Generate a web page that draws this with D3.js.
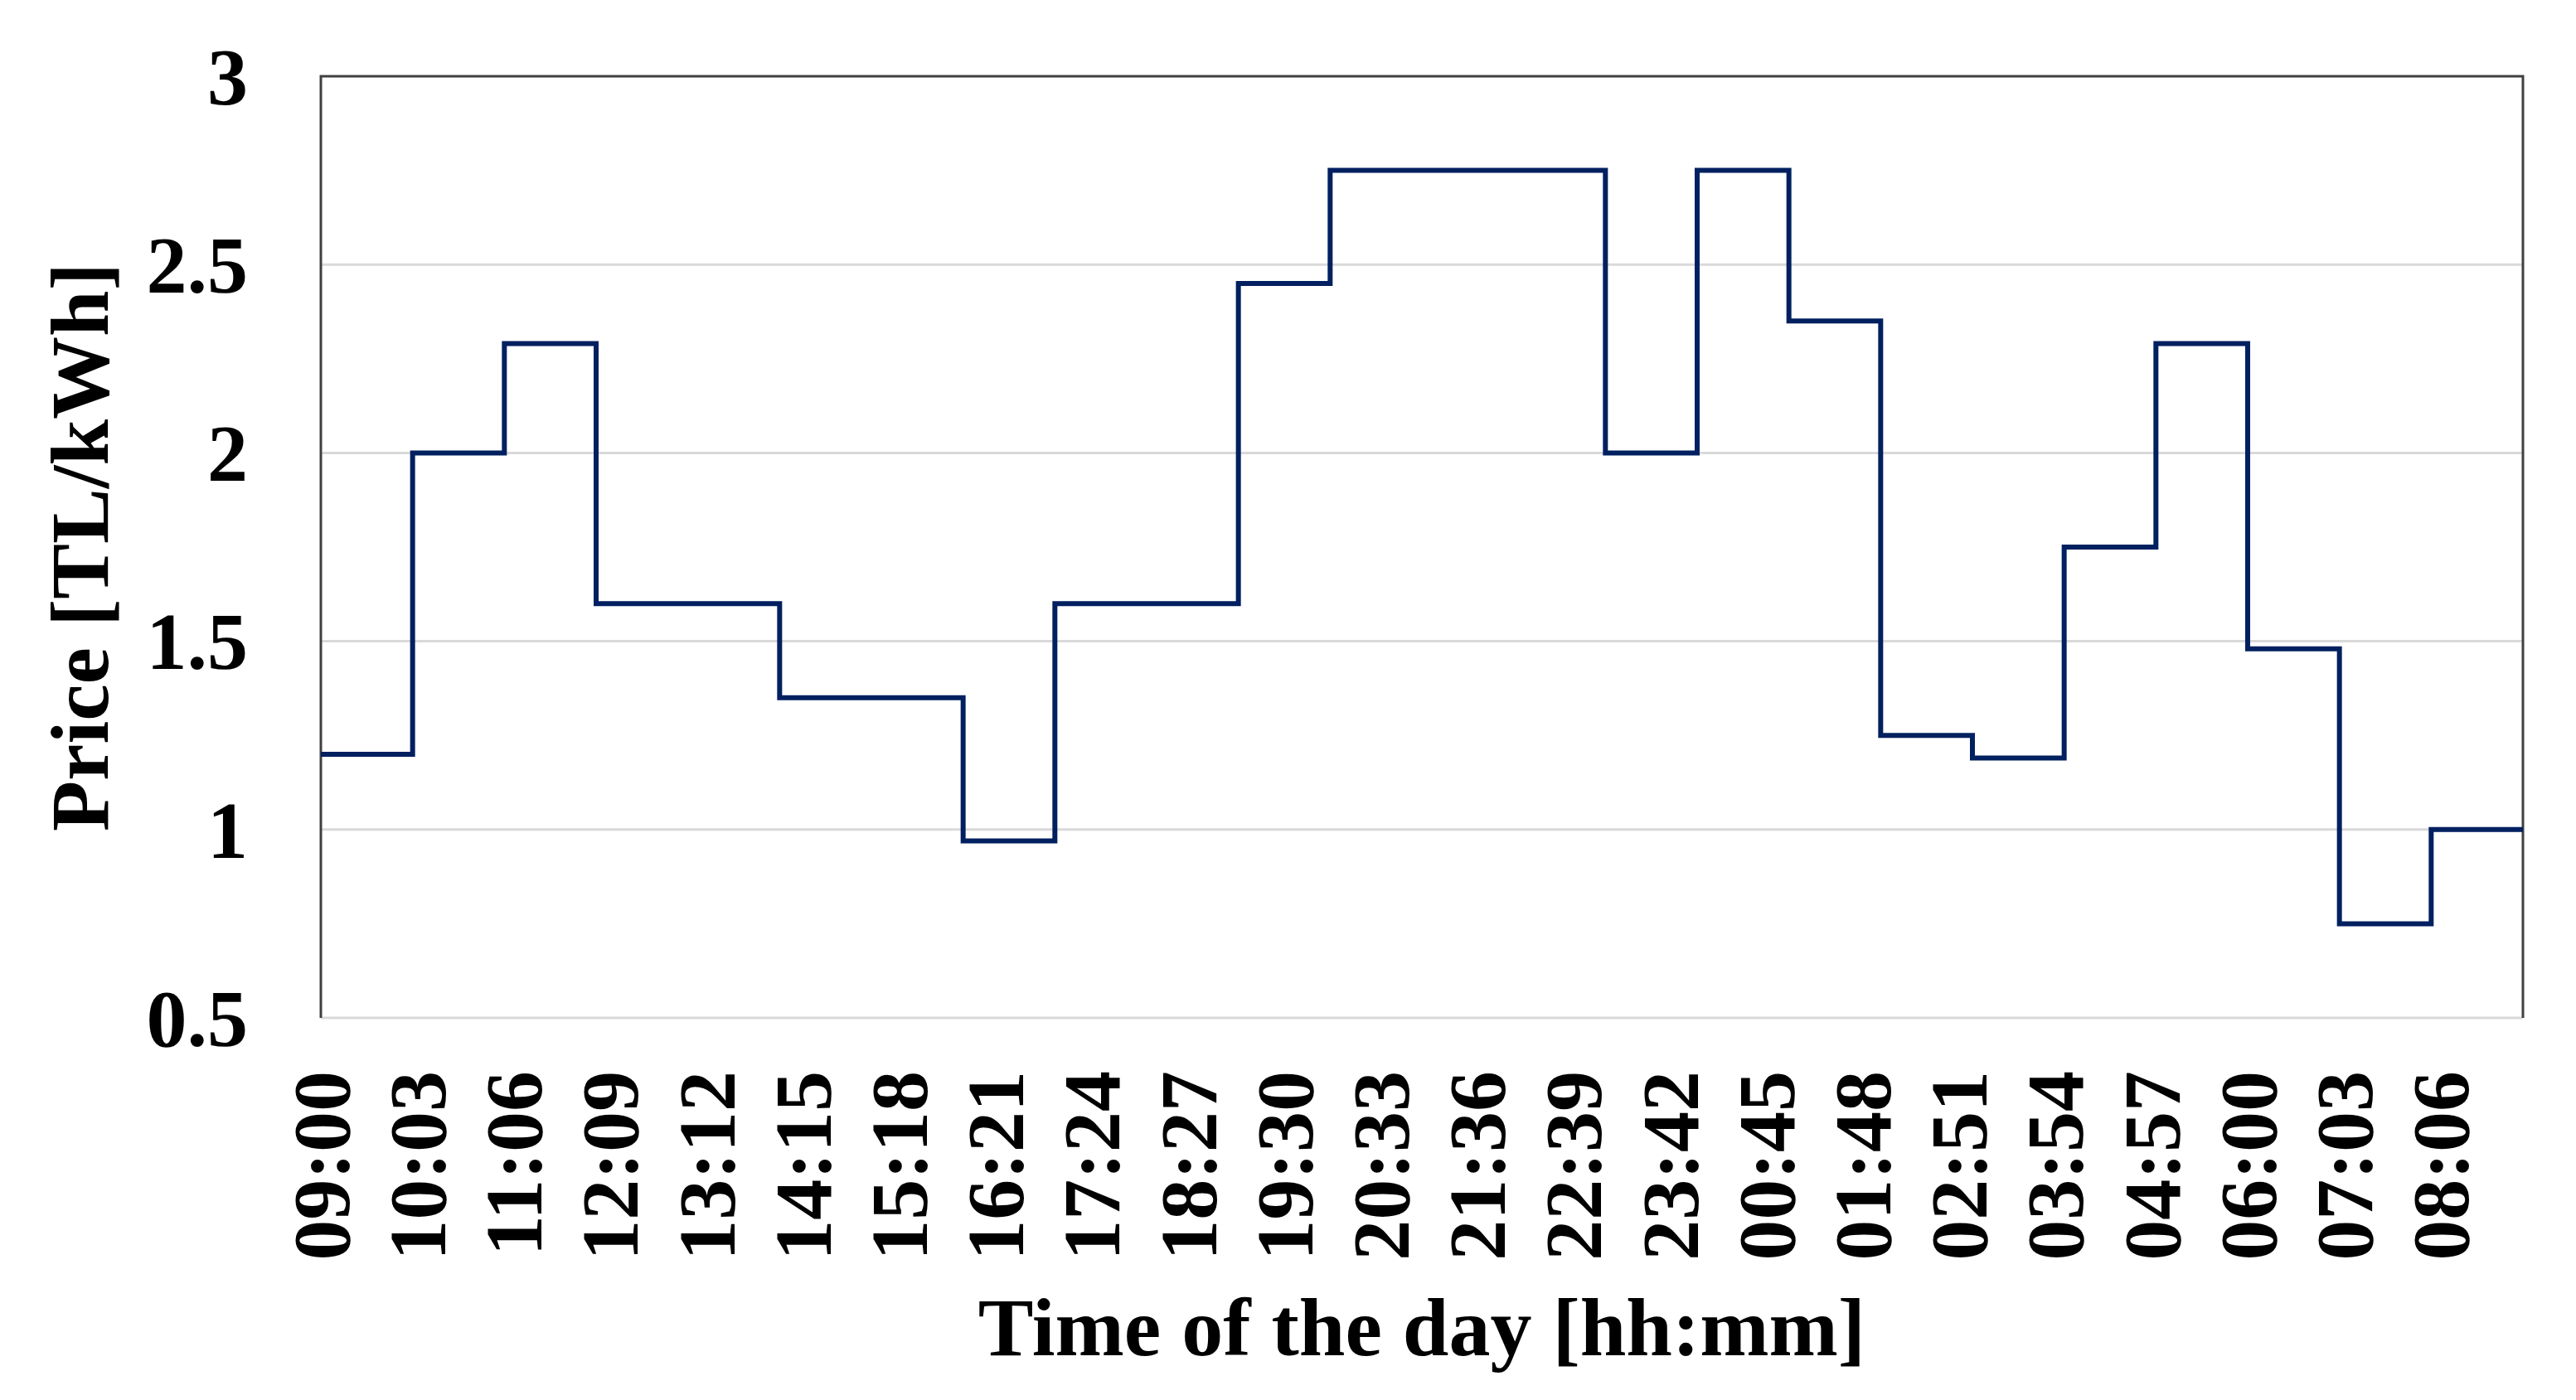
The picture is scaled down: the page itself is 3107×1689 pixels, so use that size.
<!DOCTYPE html>
<html>
<head>
<meta charset="utf-8">
<script src="https://cdn.jsdelivr.net/npm/d3@7"></script>
<style>
  html, body { margin: 0; padding: 0; background: #ffffff; }
  svg { display: block; }
  text { font-family: "Liberation Serif", "Times New Roman", serif; font-weight: bold; fill: #000; }
</style>
</head>
<body>
<svg id="chart" width="3107" height="1689"></svg>
<script>
// Hourly price steps starting at 09:00 (hour index 0 = 09:00 ... 23 = 08:00)
const hourLabels = ["09:00","10:00","11:00","12:00","13:00","14:00","15:00","16:00",
  "17:00","18:00","19:00","20:00","21:00","22:00","23:00","00:00",
  "01:00","02:00","03:00","04:00","05:00","06:00","07:00","08:00"];
const prices = [1.20, 2.00, 2.29, 1.60, 1.60, 1.35, 1.35, 0.97,
  1.60, 1.60, 2.45, 2.75, 2.75, 2.75, 2.00, 2.75,
  2.35, 1.25, 1.19, 1.75, 2.29, 1.48, 0.75, 1.00];

// X-axis tick labels (every 63 minutes from 09:00)
const tickMinutes = [0,63,126,189,252,315,378,441,504,567,630,693,756,819,882,945,1008,1071,1134,1197,1260,1323,1386];
const tickLabels = ["09:00","10:03","11:06","12:09","13:12","14:15","15:18","16:21","17:24","18:27",
  "19:30","20:33","21:36","22:39","23:42","00:45","01:48","02:51","03:54","04:57","06:00","07:03","08:06"];

const yTicks = [0.5, 1, 1.5, 2, 2.5, 3];
const yTickLabels = ["0.5", "1", "1.5", "2", "2.5", "3"];

const xTitle = "Time of the day [hh:mm]";
const yTitle = "Price [TL/kWh]";

const plot = { left: 387, right: 3043, top: 92, bottom: 1228 };

const svg = d3.select("#chart");
svg.append("rect").attr("width", 3107).attr("height", 1689).attr("fill", "#ffffff");

const x = d3.scaleLinear().domain([0, 24]).range([plot.left, plot.right]);
const y = d3.scaleLinear().domain([0.5, 3]).range([plot.bottom, plot.top]);

// gridlines
svg.append("g").selectAll("line")
  .data(yTicks.filter(v => v > 0.5 && v < 3))
  .join("line")
  .attr("x1", plot.left).attr("x2", plot.right)
  .attr("y1", d => y(d)).attr("y2", d => y(d))
  .attr("stroke", "#d9d9d9").attr("stroke-width", 3);

// bottom axis line (light)
svg.append("line")
  .attr("x1", plot.left).attr("x2", plot.right)
  .attr("y1", y(0.5)).attr("y2", y(0.5))
  .attr("stroke", "#d9d9d9").attr("stroke-width", 3);

// plot border: top, left, right (dark)
svg.append("path")
  .attr("d", `M${plot.left},${y(0.5)} L${plot.left},${y(3)} L${plot.right},${y(3)} L${plot.right},${y(0.5)}`)
  .attr("fill", "none").attr("stroke", "#404040").attr("stroke-width", 3);

// Y axis labels
const yAxis = d3.axisLeft(y).tickValues(yTicks)
  .tickFormat((d, i) => yTickLabels[i]).tickSize(0).tickPadding(88);
const gy = svg.append("g").attr("transform", `translate(${plot.left},0)`).call(yAxis);
gy.select(".domain").remove();
gy.selectAll("text")
  .attr("font-size", 98)
  .attr("font-family", "Liberation Serif, Times New Roman, serif")
  .attr("font-weight", "bold")
  .attr("fill", "#000")
  .attr("dy", "0.34em");

// X axis labels
const xAxis = d3.axisBottom(x).tickValues(tickMinutes.map(m => m / 60))
  .tickFormat((d, i) => tickLabels[i]).tickSize(0);
const gx = svg.append("g").attr("transform", `translate(0,${plot.bottom})`).call(xAxis);
gx.select(".domain").remove();
gx.selectAll("text")
  .attr("font-size", 98)
  .attr("font-family", "Liberation Serif, Times New Roman, serif")
  .attr("font-weight", "bold")
  .attr("fill", "#000")
  .attr("text-anchor", "end")
  .attr("transform", "translate(0,64) rotate(-90)")
  .attr("x", 0).attr("y", 0)
  .attr("dy", "0.34em");

// Step line
const pts = prices.map((v, i) => [i, v]);
pts.push([24, prices[prices.length - 1]]);
const line = d3.line().x(d => x(d[0])).y(d => y(d[1])).curve(d3.curveStepAfter);
svg.append("path")
  .datum(pts)
  .attr("d", line)
  .attr("fill", "none")
  .attr("stroke", "#002060")
  .attr("stroke-width", 6)
  .attr("stroke-linejoin", "miter");

// Titles
svg.append("text")
  .attr("x", (plot.left + plot.right) / 2)
  .attr("y", 1635)
  .attr("text-anchor", "middle")
  .attr("font-size", 100)
  .text(xTitle);

svg.append("text")
  .attr("transform", `translate(130,${(plot.top + plot.bottom) / 2}) rotate(-90)`)
  .attr("text-anchor", "middle")
  .attr("font-size", 100)
  .text(yTitle);
</script>
</body>
</html>
